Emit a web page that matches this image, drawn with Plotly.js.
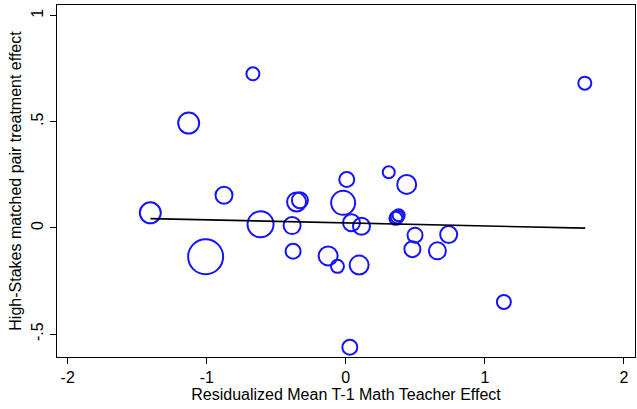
<!DOCTYPE html>
<html>
<head>
<meta charset="utf-8">
<script src="https://cdn.plot.ly/plotly-3.0.1.min.js"></script>
<style>html,body{margin:0;padding:0;background:#fff;}#chart{width:637px;height:409px;}</style>
</head>
<body>
<div id="chart"></div>
<script>
// Scatter data: mean T-1 teacher effect (x), matched pair treatment effect (y), marker diameter (weight)
const teacherEffect = [-1.406, -1.130, -1.008, -0.876, -0.668, -0.613, -0.386, -0.379, -0.354, -0.330,
  -0.127, -0.060, -0.019, 0.007, 0.029, 0.041, 0.096, 0.113, 0.309, 0.360, 0.370, 0.380,
  0.438, 0.479, 0.498, 0.659, 0.740, 1.137, 1.719];
const treatmentEffect = [0.071, 0.494, -0.136, 0.154, 0.726, 0.017, 0.011, -0.110, 0.122, 0.130,
  -0.132, -0.181, 0.118, 0.228, -0.562, 0.024, -0.175, 0.008, 0.262, 0.045, 0.052, 0.060,
  0.205, -0.100, -0.034, -0.108, -0.031, -0.349, 0.682];
const pairWeight = [21, 21, 35, 17, 13, 26, 17, 15, 19, 16,
  19, 13, 24, 15, 15, 17, 19, 17, 12, 13, 13, 12,
  19, 16, 15, 17, 17, 14, 13];

// Fitted line
const fitX = [-1.405, 1.722];
const fitY = [0.044, -0.001];

const xTicks = [-2, -1, 0, 1, 2];
const xTickText = ['-2', '-1', '0', '1', '2'];
const yTicks = [-0.5, 0, 0.5, 1];
const yTickText = ['-.5', '0', '.5', '1'];

const font = {family: 'Liberation Sans, Arial, Helvetica, sans-serif', size: 16, color: '#000'};

const traces = [
  {
    x: teacherEffect, y: treatmentEffect, mode: 'markers', type: 'scatter',
    marker: {symbol: 'circle', size: pairWeight, color: 'rgba(0,0,0,0)', opacity: 1,
             line: {width: 2, color: 'rgb(20,20,255)'}},
    hoverinfo: 'x+y', showlegend: false
  },
  {
    x: fitX, y: fitY, mode: 'lines', type: 'scatter',
    line: {color: '#000', width: 1.6}, showlegend: false
  }
];

const layout = {
  width: 637, height: 409,
  margin: {l: 57, r: 2, t: 5, b: 52},
  paper_bgcolor: '#fff', plot_bgcolor: '#fff',
  font: font,
  showlegend: false,
  xaxis: {
    range: [-2.077, 2.08], tickvals: xTicks, ticktext: xTickText,
    ticks: 'outside', ticklen: 6, tickwidth: 1, tickcolor: '#000',
    showgrid: false, zeroline: false, showline: true, linecolor: '#000', linewidth: 1.2, mirror: true,
    tickfont: font,
    title: {text: 'Residualized Mean T-1 Math Teacher Effect', font: font, standoff: 1}
  },
  yaxis: {
    range: [-0.608, 1.05], tickvals: yTicks, ticktext: yTickText, tickangle: -90,
    ticks: 'outside', ticklen: 6, tickwidth: 1, tickcolor: '#000',
    showgrid: false, zeroline: false, showline: true, linecolor: '#000', linewidth: 1.2, mirror: true,
    tickfont: font,
    title: {text: 'High-Stakes matched pair treatment effect', font: font, standoff: 3}
  }
};

Plotly.newPlot('chart', traces, layout, {displayModeBar: false, staticPlot: true});
</script>
</body>
</html>
